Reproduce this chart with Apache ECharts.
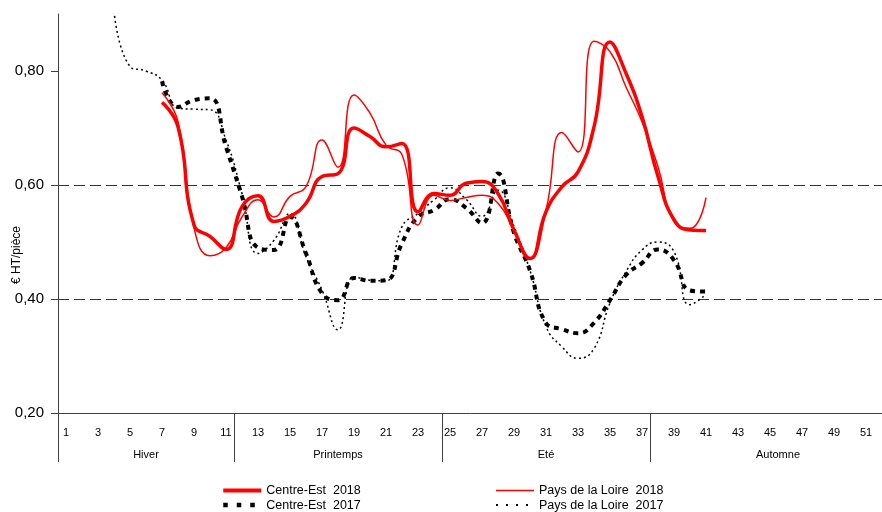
<!DOCTYPE html>
<html>
<head>
<meta charset="utf-8">
<title>Prix € HT/pièce</title>
<script src="https://cdn.jsdelivr.net/npm/echarts@6/dist/echarts.min.js"></script>
<style>
  html, body { margin: 0; padding: 0; background: #fff; }
  #chart { width: 882px; height: 512px; }
</style>
</head>
<body>
<div id="chart"></div>
<script>
const WEEKS = [
  '1', '2', '3', '4', '5', '6', '7', '8', '9', '10', '11', '12', '13', '14',
  '15', '16', '17', '18', '19', '20', '21', '22', '23', '24', '25', '26', '27',
  '28', '29', '30', '31', '32', '33', '34', '35', '36', '37', '38', '39', '40',
  '41', '42', '43', '44', '45', '46', '47', '48', '49', '50', '51', '52', '53'
];

const SEASONS = [ 'Hiver', 'Printemps', 'Eté', 'Automne' ];
const SEASON_BOUNDS = [ 0, 11, 24, 37, 53 ];
const SEASON_CENTRES = [ 5.5, 17.5, 30.5, 45 ];

const Y_TICKS = [ 0.2, 0.4, 0.6, 0.8 ];

// weeks 7 -> 41
const CENTRE_EST_2018 = [
  0.745, 0.702, 0.530, 0.510, 0.487, 0.562, 0.581, 0.536, 0.545, 0.568,
  0.615, 0.620, 0.700, 0.685, 0.667, 0.673, 0.553, 0.585, 0.582, 0.603,
  0.606, 0.585, 0.521, 0.471, 0.553, 0.597, 0.623, 0.702, 0.851, 0.796,
  0.720, 0.615, 0.539, 0.521, 0.520
];

// weeks 7 -> 41
const LOIRE_2018 = [
  0.762, 0.711, 0.525, 0.476, 0.490, 0.544, 0.574, 0.544, 0.580, 0.597,
  0.679, 0.631, 0.758, 0.726, 0.670, 0.653, 0.530, 0.582, 0.573, 0.578,
  0.582, 0.568, 0.521, 0.471, 0.556, 0.692, 0.658, 0.852, 0.834, 0.772,
  0.711, 0.632, 0.536, 0.524, 0.578
];

// weeks 7 -> 41
const CENTRE_EST_2017 = [
  0.782, 0.737, 0.749, 0.752, 0.667, 0.580, 0.490, 0.486, 0.544, 0.480,
  0.410, 0.398, 0.437, 0.432, 0.433, 0.498, 0.544, 0.556, 0.575, 0.560,
  0.533, 0.620, 0.516, 0.450, 0.358, 0.347, 0.340, 0.358, 0.398, 0.442,
  0.463, 0.487, 0.468, 0.415, 0.413
];

// weeks 4 -> 41
const LOIRE_2017 = [
  0.905, 0.808, 0.800,
  0.784, 0.735, 0.733, 0.732, 0.679, 0.585, 0.480, 0.503, 0.550, 0.474,
  0.416, 0.346, 0.439, 0.433, 0.432, 0.527, 0.550, 0.574, 0.595, 0.575,
  0.545, 0.591, 0.527, 0.450, 0.352, 0.316, 0.296, 0.313, 0.393, 0.448,
  0.486, 0.500, 0.483, 0.390, 0.408
];

const FONT = 'Liberation Sans, Arial, sans-serif';
const AXIS_COLOR = '#404040';

function fromWeek(firstWeek, values) {
  return new Array(firstWeek - 1).fill(null).concat(values);
}

function lineSeries(name, values, firstWeek, color, width, type) {
  return {
    name: name,
    type: 'line',
    data: fromWeek(firstWeek, values),
    smooth: 0.5,
    symbol: 'none',
    clip: true,
    lineStyle: { color: color, width: width, type: type, cap: 'butt' },
    itemStyle: { color: color }
  };
}

let chart = echarts.init(document.getElementById('chart'));

let legendBase = {
  orient: 'vertical',
  top: 484,
  padding: 0,
  itemWidth: 38,
  itemHeight: 12,
  itemGap: 1.6,
  // hide the round marker, keep the line
  itemStyle: { opacity: 0 },
  textStyle: { fontFamily: FONT, fontSize: 12.5, color: '#000', lineHeight: 12 }
};

chart.setOption({
  animation: false,
  backgroundColor: '#fff',
  grid: { left: 58, top: 14, width: 848, height: 399, outerBoundsMode: 'none', containLabel: false },
  legend: [
    Object.assign({
      left: 221,
      data: [
        { name: 'Centre-Est  2018', lineStyle: { width: 4, color: '#ff0000', type: 'solid' } },
        { name: 'Centre-Est  2017', lineStyle: { width: 4.5, color: '#000', type: [ 4.5, 9 ] } }
      ]
    }, legendBase),
    Object.assign({
      left: 495,
      data: [
        { name: 'Pays de la Loire  2018', lineStyle: { width: 1.5, color: '#ff0000', type: 'solid' } },
        { name: 'Pays de la Loire  2017', lineStyle: { width: 2, color: '#000', type: [ 2, 8 ] } }
      ]
    }, legendBase)
  ],
  graphic: [{
    type: 'text',
    x: 17,
    y: 255,
    rotation: Math.PI / 2,
    style: {
      text: '€ HT/pièce',
      fontFamily: FONT,
      fontSize: 12,
      fill: '#000',
      align: 'center',
      verticalAlign: 'middle'
    }
  }],
  xAxis: [
    {
      type: 'category',
      data: WEEKS,
      boundaryGap: true,
      axisLine: { lineStyle: { color: AXIS_COLOR, width: 1 } },
      axisTick: { interval: 0, length: 10, lineStyle: { color: AXIS_COLOR } },
      axisLabel: { interval: 1, margin: 14, fontFamily: FONT, fontSize: 11, color: '#000' },
      splitLine: { show: false }
    },
    {
      type: 'value',
      min: 0,
      max: 53,
      position: 'bottom',
      axisLine: { show: false },
      axisTick: { customValues: SEASON_BOUNDS, length: 49, lineStyle: { color: AXIS_COLOR } },
      axisLabel: {
        customValues: SEASON_CENTRES,
        margin: 36,
        fontFamily: FONT,
        fontSize: 11,
        color: '#000',
        formatter: v => SEASONS[SEASON_CENTRES.indexOf(v)] || ''
      },
      splitLine: { show: false }
    }
  ],
  yAxis: {
    type: 'value',
    min: 0.2,
    max: 0.9,
    interval: 0.2,
    axisLine: { show: true, lineStyle: { color: AXIS_COLOR, width: 1 } },
    axisTick: { show: true, customValues: Y_TICKS, length: 7, lineStyle: { color: AXIS_COLOR } },
    axisLabel: {
      customValues: Y_TICKS,
      margin: 14,
      fontFamily: FONT,
      fontSize: 15,
      color: '#000',
      formatter: v => v.toFixed(2).replace('.', ',')
    },
    splitLine: {
      show: true,
      showMinLine: false,
      showMaxLine: false,
      lineStyle: { color: '#333', width: 1, type: [ 11, 5 ] }
    }
  },
  series: [
    lineSeries('Pays de la Loire  2017', LOIRE_2017, 4, '#000', 1.5, [ 2, 3 ]),
    lineSeries('Centre-Est  2017', CENTRE_EST_2017, 7, '#000', 4, [ 5, 5 ]),
    lineSeries('Pays de la Loire  2018', LOIRE_2018, 7, '#ff0000', 1.5, 'solid'),
    lineSeries('Centre-Est  2018', CENTRE_EST_2018, 7, '#ff0000', 3.5, 'solid')
  ]
});
</script>
</body>
</html>
